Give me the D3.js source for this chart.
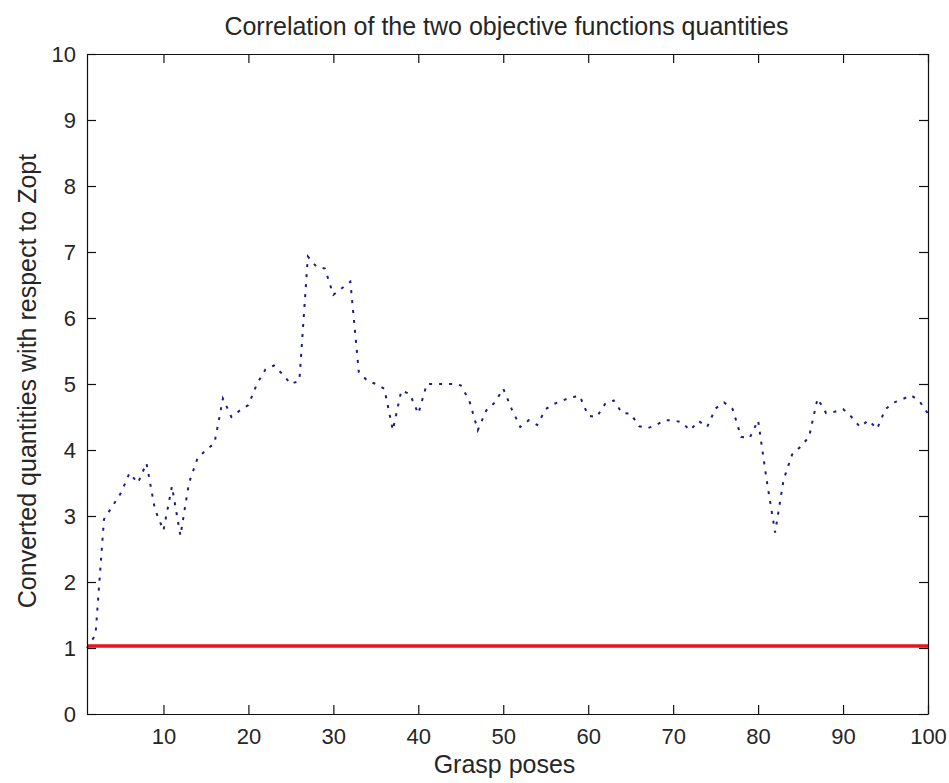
<!DOCTYPE html>
<html lang="en">
<head>
    <meta charset="UTF-8">
    <title>Correlation of the two objective functions quantities</title>
    <script src="https://d3js.org/d3.v7.min.js"></script>
    <style>
        body { margin: 0; background: white; }
        svg { display: block; background: white; }
        text { font-family: "Liberation Sans", Arial, sans-serif; fill: #262626; }
        .tick line, .domain { stroke: #111; stroke-width: 1.2; }
    </style>
</head>
<body>
    <script>
        // converted quantity for each grasp pose (1..100)
        const converted = [
            1.0, 1.2, 2.95, 3.15, 3.35, 3.65, 3.5, 3.8, 3.1, 2.78,
            3.45, 2.7, 3.5, 3.87, 4.0, 4.1, 4.78, 4.5, 4.6, 4.68,
            5.0, 5.22, 5.28, 5.15, 5.0, 5.05, 6.93, 6.78, 6.75, 6.35,
            6.45, 6.55, 5.18, 5.05, 5.0, 4.93, 4.3, 4.9, 4.85, 4.55,
            5.0, 5.0, 5.0, 5.0, 4.98, 4.75, 4.3, 4.6, 4.72, 4.93,
            4.62, 4.35, 4.45, 4.38, 4.62, 4.7, 4.75, 4.8, 4.82, 4.52,
            4.5, 4.7, 4.75, 4.56, 4.55, 4.36, 4.33, 4.38, 4.45, 4.45,
            4.42, 4.3, 4.44, 4.35, 4.63, 4.72, 4.62, 4.2, 4.18, 4.45,
            3.55, 2.75, 3.55, 3.93, 4.05, 4.2, 4.78, 4.56, 4.58, 4.62,
            4.5, 4.35, 4.45, 4.32, 4.62, 4.72, 4.77, 4.83, 4.74, 4.55
        ];
        const reference = [1, 1];          // Zopt level, from first to last pose
        const xTicks = [10, 20, 30, 40, 50, 60, 70, 80, 90, 100];
        const yTicks = [0, 1, 2, 3, 4, 5, 6, 7, 8, 9, 10];

        const w = 949, h = 783;
        const plotLeft = 87, plotRight = 928, plotTop = 54, plotBottom = 714;

        const svg = d3.select('body').append('svg')
            .attr('width', w)
            .attr('height', h);

        const x = d3.scaleLinear().domain([1, 100]).range([plotLeft, plotRight]);
        const y = d3.scaleLinear().domain([0, 10]).range([plotBottom, plotTop]);

        // the blue dotted curve
        const line = d3.line()
            .x((d, i) => x(i + 1))
            .y(d => y(d));

        svg.append('path')
            .datum(converted)
            .attr('d', line)
            .attr('fill', 'none')
            .attr('stroke', '#1c1c86')
            .attr('stroke-width', 2)
            .attr('stroke-dasharray', '3,7');

        // red reference line
        svg.append('line')
            .attr('x1', x(1))
            .attr('x2', x(100))
            .attr('y1', y(reference[0]) - 2)
            .attr('y2', y(reference[1]) - 2)
            .attr('stroke', '#e8141a')
            .attr('stroke-width', 3.4);

        const tickLen = -9;

        svg.append('g')
            .attr('transform', `translate(0,${plotBottom})`)
            .call(d3.axisBottom(x).tickValues(xTicks).tickSizeInner(tickLen).tickSizeOuter(0).tickPadding(14));

        svg.append('g')
            .attr('transform', `translate(0,${plotTop})`)
            .call(d3.axisTop(x).tickValues(xTicks).tickSizeInner(tickLen).tickSizeOuter(0).tickFormat(''));

        const gy = svg.append('g')
            .attr('transform', `translate(${plotLeft},0)`)
            .call(d3.axisLeft(y).tickValues(yTicks).tickSizeInner(tickLen).tickSizeOuter(0).tickPadding(11));

        svg.append('g')
            .attr('transform', `translate(${plotRight},0)`)
            .call(d3.axisRight(y).tickValues(yTicks).tickSizeInner(tickLen).tickSizeOuter(0).tickFormat(''));

        svg.selectAll('g').attr('font-family', null).attr('font-size', null);
        svg.selectAll('.tick text').style('font-size', '22px').attr('fill', '#262626');
        gy.selectAll('text').attr('dy', '0.36em');

        svg.append('text')
            .attr('x', (plotLeft + plotRight) / 2 - 1)
            .attr('y', 35)
            .attr('text-anchor', 'middle')
            .style('font-size', '25px')
            .text('Correlation of the two objective functions quantities');

        svg.append('text')
            .attr('x', (plotLeft + plotRight) / 2 - 3)
            .attr('y', 773)
            .attr('text-anchor', 'middle')
            .style('font-size', '25px')
            .text('Grasp poses');

        svg.append('text')
            .attr('transform', `translate(36,${(plotTop + plotBottom) / 2 - 3}) rotate(-90)`)
            .attr('text-anchor', 'middle')
            .style('font-size', '25px')
            .text('Converted quantities with respect to Zopt');
    </script>
</body>
</html>
